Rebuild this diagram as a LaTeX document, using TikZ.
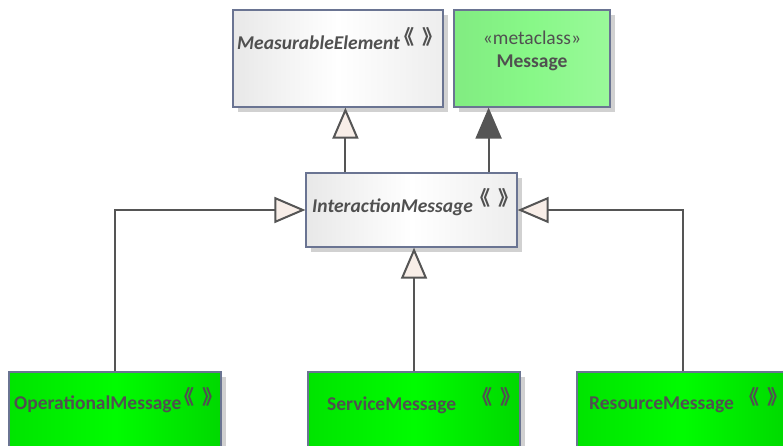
\documentclass[tikz,border=0pt]{standalone}
\usepackage{fontspec}
\setmainfont{Carlito}
\newfontfamily\cjk{Noto Sans CJK SC}
\usetikzlibrary{arrows.meta,shadows}

\definecolor{boxline}{RGB}{106,116,146}
\definecolor{txtgray}{RGB}{80,80,80}
\definecolor{linegray}{RGB}{85,85,85}
\definecolor{hollow}{RGB}{248,238,232}
\definecolor{metagreen}{RGB}{136,248,136}
\definecolor{leafgreen}{RGB}{0,228,0}

\newcommand{\stereo}{{\cjk\bfseries\fontsize{20}{20}\selectfont\kern-9pt《\kern8pt》\kern-9pt}}

\tikzset{
  classbox/.style={draw=boxline, line width=1.2pt, minimum width=210pt, inner sep=0pt,
    general shadow={fill=black!18, shadow xshift=5pt, shadow yshift=-5pt}},
  plainbox/.style={classbox, left color=black!9, right color=black!7, middle color=white},
  metabox/.style={classbox, left color=metagreen!95!black, right color=metagreen!85!white, middle color=metagreen},
  leafbox/.style={classbox, left color=leafgreen, right color=leafgreen!95!black, middle color=green!90!leafgreen},
  classname/.style={text=txtgray, inner sep=0pt, font=\fontsize{19.5}{19.5}\selectfont\bfseries},
  stlabel/.style={text=txtgray, inner sep=0pt, anchor=west},
  gen/.style={draw=linegray, line width=2pt, -{Triangle[length=31pt,width=26pt,fill=hollow]}},
  genfull/.style={draw=linegray, line width=2pt, -{Triangle[length=31pt,width=26pt,fill=linegray]}}
}

\begin{document}
\begin{tikzpicture}[x=1pt, y=-1pt]
  \useasboundingbox (0,0) rectangle (783,445);
  \clip (0,0) rectangle (783,445);

  % top row
  \node[plainbox, minimum width=210pt, minimum height=97pt] (measurable) at (338,58.5) {};
  \node[metabox, minimum width=156pt, minimum height=97pt] (metamsg) at (532,58.5) {};
  \node[classname, font=\fontsize{19.5}{19.5}\selectfont\bfseries\itshape, anchor=west] (measname) at (237,43) {MeasurableElement};
  \node[stlabel] (measst) at (403,37) {\stereo};
  \node[text=txtgray, inner sep=0pt, font=\fontsize{19.5}{19.5}\selectfont] (metakind) at (532,38) {«metaclass»};
  \node[classname] (metaname) at (532,63) {Message};

  % middle
  \node[plainbox, minimum width=211pt, minimum height=74pt] (interaction) at (411.5,210) {};
  \node[classname, font=\fontsize{19.5}{19.5}\selectfont\bfseries\itshape, anchor=west] (intname) at (312,207) {InteractionMessage};
  \node[stlabel] (intst) at (479,198) {\stereo};

  % bottom row
  \node[leafbox, minimum width=212pt, minimum height=76pt] (operational) at (115,410) {};
  \node[leafbox, minimum width=212pt, minimum height=76pt] (service) at (414,410) {};
  \node[leafbox, minimum width=212pt, minimum height=76pt] (resource) at (683,410) {};
  \node[classname, anchor=west] (opname) at (14,404) {OperationalMessage};
  \node[stlabel] (opst) at (183,397) {\stereo};
  \node[classname, anchor=west] (svcname) at (327,405) {ServiceMessage};
  \node[stlabel] (svcst) at (481,397) {\stereo};
  \node[classname, anchor=west] (resname) at (589,405) {ResourceMessage};
  \node[stlabel] (resst) at (748,397) {\stereo};

  % generalizations
  \draw[gen] ([xshift=40pt]interaction.north west) -- ([xshift=40pt]interaction.north west |- measurable.south);
  \draw[genfull] ([xshift=-29pt]interaction.north east) -- ([xshift=-29pt]interaction.north east |- metamsg.south);
  \draw[gen] (operational.north) |- (interaction.west);
  \draw[gen] (service.north) -- (service.north |- interaction.south);
  \draw[gen] (resource.north) |- (interaction.east);
\end{tikzpicture}
\end{document}
